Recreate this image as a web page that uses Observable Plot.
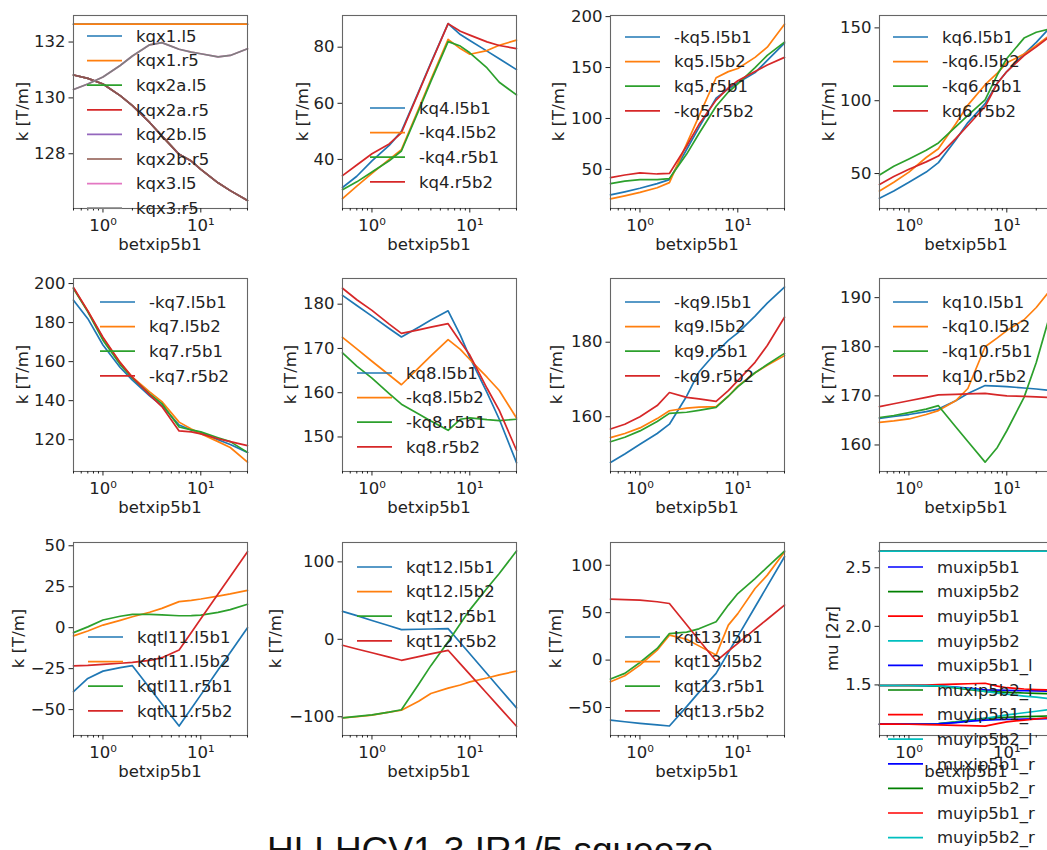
<!DOCTYPE html>
<html>
<head>
<meta charset="utf-8">
<script src="https://cdn.jsdelivr.net/npm/d3@7"></script>
<script src="https://cdn.jsdelivr.net/npm/@observablehq/plot@0.6"></script>
<style>
  html, body { margin: 0; padding: 0; background: #fff; }
  #fig { position: relative; width: 1047px; height: 850px; overflow: hidden; background: #fff; }
  #fig svg { position: absolute; }
  #title { position: absolute; left: 267px; top: 832px; font-family: "Liberation Sans", Arial, sans-serif;
           font-size: 37px; line-height: 1; color: #111; white-space: nowrap; }
</style>
</head>
<body>
<div id="fig"><div id="title">HLLHCV1.3 IR1/5 squeeze</div></div>
<script>
// ---- squeeze steps (x) ----
const betxip5b1 = [0.5, 0.7, 1, 1.5, 2, 3, 4, 6, 8, 10, 15, 20, 30];
const xMajorTicks = [1, 10];
const xMinorTicks = [0.5, 0.6, 0.7, 0.8, 0.9, 2, 3, 4, 5, 6, 7, 8, 9, 20, 30];

// ---- triplet kqx ----
const namesKqx = ["kqx1.l5", "kqx1.r5", "kqx2a.l5", "kqx2a.r5", "kqx2b.l5", "kqx2b.r5", "kqx3.l5", "kqx3.r5"];
const kqx1_l5  = [132.64, 132.64, 132.64, 132.64, 132.64, 132.64, 132.64, 132.64, 132.64, 132.64, 132.64, 132.64, 132.64];
const kqx1_r5  = [132.64, 132.64, 132.64, 132.64, 132.64, 132.64, 132.64, 132.64, 132.64, 132.64, 132.64, 132.64, 132.64];
const kqx2a_l5 = [130.82, 130.70, 130.50, 130.08, 129.72, 129.12, 128.64, 127.98, 127.74, 127.44, 126.96, 126.68, 126.33];
const kqx2a_r5 = [130.82, 130.70, 130.50, 130.08, 129.72, 129.12, 128.64, 127.98, 127.74, 127.44, 126.96, 126.68, 126.33];
const kqx2b_l5 = [130.82, 130.70, 130.50, 130.08, 129.72, 129.12, 128.64, 127.98, 127.74, 127.44, 126.96, 126.68, 126.33];
const kqx2b_r5 = [130.82, 130.70, 130.50, 130.08, 129.72, 129.12, 128.64, 127.98, 127.74, 127.44, 126.96, 126.68, 126.33];
const kqx3_l5  = [130.30, 130.50, 130.75, 131.16, 131.50, 131.90, 131.98, 131.74, 131.64, 131.58, 131.47, 131.52, 131.76];
const kqx3_r5  = [130.30, 130.50, 130.75, 131.16, 131.50, 131.90, 131.98, 131.74, 131.64, 131.58, 131.47, 131.52, 131.76];
const ticksKqx = [128, 130, 132];

// ---- Q4 ----
const namesKq4 = ["kq4.l5b1", "-kq4.l5b2", "-kq4.r5b1", "kq4.r5b2"];
const kq4_l5b1  = [30.0, 34.0, 39.5, 45.0, 50.0, 64.2, 74.4, 88.4, 84.5, 82.4, 78.6, 75.9, 72.0];
const mkq4_l5b2 = [26.0, 30.5, 35.0, 40.0, 43.5, 58.0, 68.5, 82.8, 79.5, 77.5, 78.8, 80.7, 82.5];
const mkq4_r5b1 = [29.2, 32.0, 35.5, 39.5, 43.0, 57.4, 67.8, 82.0, 80.4, 78.0, 72.6, 67.5, 63.0];
const kq4_r5b2  = [34.2, 38.0, 42.0, 45.5, 49.5, 63.9, 74.2, 88.4, 85.7, 84.3, 81.9, 80.6, 79.5];
const ticksKq4 = [40, 60, 80];

// ---- Q5 ----
const namesKq5 = ["-kq5.l5b1", "kq5.l5b2", "kq5.r5b1", "-kq5.r5b2"];
const mkq5_l5b1 = [25, 28, 31.5, 36, 40, 69.5, 91, 120, 129, 135, 145, 157, 174];
const kq5_l5b2  = [21, 24, 27.5, 32, 37, 75, 102, 140, 146, 149, 160, 170, 192.5];
const kq5_r5b1  = [36, 38.5, 40, 40, 41, 65, 85, 112, 126, 134, 150, 162, 175];
const mkq5_r5b2 = [42, 44.5, 46.5, 45.5, 46, 73, 94, 118, 130, 137, 146, 152.5, 160];
const ticksKq5 = [50, 100, 150, 200];

// ---- Q6 ----
const namesKq6 = ["kq6.l5b1", "-kq6.l5b2", "-kq6.r5b1", "kq6.r5b2"];
const kq6_l5b1  = [33, 38, 44, 51, 57.5, 73, 85, 98, 112, 120, 132, 140, 153];
const mkq6_l5b2 = [38, 44, 51, 61, 67, 84, 97, 111, 119, 126, 132, 138, 147];
const mkq6_r5b1 = [49, 55, 60, 66, 71, 82, 90, 100.6, 117.8, 129, 143, 147, 150];
const kq6_r5b2  = [42.5, 48, 53, 58, 62, 74, 83, 96, 112, 120, 131, 137, 146];
const ticksKq6 = [50, 100, 150];

// ---- Q7 ----
const namesKq7 = ["-kq7.l5b1", "kq7.l5b2", "kq7.r5b1", "-kq7.r5b2"];
const mkq7_l5b1 = [191.5, 182, 168.5, 157, 150.5, 142.5, 137.5, 127.5, 125, 123.5, 120, 117.5, 113.5];
const kq7_l5b2  = [197.5, 186, 172, 159.5, 152, 144.5, 139.5, 129, 125.5, 123, 119, 116, 108.5];
const kq7_r5b1  = [197.5, 185.5, 171, 158.5, 151.5, 143.5, 138.5, 126.5, 125, 124, 121, 119, 113.5];
const mkq7_r5b2 = [198, 186, 172.5, 159.5, 152, 143, 137, 124.5, 124, 123, 120.5, 119, 117];
const ticksKq7 = [120, 140, 160, 180, 200];

// ---- Q8 ----
const namesKq8 = ["kq8.l5b1", "-kq8.l5b2", "-kq8.r5b1", "kq8.r5b2"];
const kq8_l5b1  = [182, 179.7, 177.3, 174.5, 172.6, 174.8, 176.4, 178.5, 173, 168, 160, 154, 144.2];
const mkq8_l5b2 = [172.5, 169.9, 167.1, 164, 161.8, 165.6, 168.3, 172, 169.8, 167.5, 163.5, 160.5, 154.3];
const mkq8_r5b1 = [169, 166, 163.3, 159.8, 157.4, 155.2, 153.6, 151.5, 154, 154.3, 153.9, 153.7, 154];
const kq8_r5b2  = [183.6, 181, 178.6, 175.5, 173.4, 174.2, 174.8, 175.6, 171.5, 168.5, 161, 156, 147];
const ticksKq8 = [150, 160, 170, 180];

// ---- Q9 ----
const namesKq9 = ["-kq9.l5b1", "kq9.l5b2", "kq9.r5b1", "-kq9.r5b2"];
const mkq9_l5b1 = [147.7, 150, 152.6, 155.5, 158, 165.5, 172, 177.3, 180.5, 182.5, 187, 190.5, 194.8];
const kq9_l5b2  = [154.4, 155.5, 157, 159.5, 161.6, 162.3, 162.6, 162.7, 165.5, 168.2, 171.8, 173.8, 176.4];
const kq9_r5b1  = [153.3, 154.5, 156.2, 158.7, 160.9, 161.2, 161.7, 162.5, 165.5, 168, 171.8, 174, 177];
const mkq9_r5b2 = [156.7, 158, 160, 163, 166.5, 165.2, 164.8, 164.1, 167, 169.7, 174.6, 179.1, 186.7];
const ticksKq9 = [160, 180];

// ---- Q10 ----
const namesKq10 = ["kq10.l5b1", "-kq10.l5b2", "-kq10.r5b1", "kq10.r5b2"];
const kq10_l5b1  = [165.4, 165.8, 166.2, 166.8, 167.3, 169, 170.5, 172.1, 172, 171.9, 171.6, 171.4, 171];
const mkq10_l5b2 = [164.6, 164.9, 165.3, 166.2, 167, 169, 171.5, 180, 181.8, 183.3, 185.5, 188, 192.4];
const mkq10_r5b1 = [165.6, 166, 166.6, 167.3, 168, 163.7, 160.7, 156.5, 159.5, 162.9, 169.7, 176.8, 189];
const kq10_r5b2  = [167.8, 168.4, 169, 169.7, 170.2, 170.3, 170.4, 170.5, 170.2, 170, 169.9, 169.8, 169.6];
const ticksKq10 = [160, 170, 180, 190];

// ---- Q11 ----
const namesKqtl11 = ["kqtl11.l5b1", "kqtl11.l5b2", "kqtl11.r5b1", "kqtl11.r5b2"];
const kqtl11_l5b1 = [-39, -31, -26.5, -24.4, -23.2, -36.8, -46.6, -60, -49.3, -41, -25.8, -15.1, 0];
const kqtl11_l5b2 = [-5, -2, 1.6, 4.5, 6.7, 9.4, 11.8, 15.9, 16.7, 17.5, 19.3, 20.6, 22.8];
const kqtl11_r5b1 = [-3, 0.5, 4.7, 7, 8.1, 8.1, 7.8, 7.3, 7.4, 7.7, 9.4, 11, 14.3];
const kqtl11_r5b2 = [-23.3, -23, -22.4, -21.7, -21.2, -20, -18.3, -13.6, -2.9, 5.4, 20.6, 31.3, 46.4];
const ticksKqtl11 = [-50, -25, 0, 25, 50];

// ---- Q12 ----
const namesKqt12 = ["kqt12.l5b1", "kqt12.l5b2", "kqt12.r5b1", "kqt12.r5b2"];
const kqt12_l5b1 = [36, 30.5, 24.3, 17.5, 12.5, 13, 13.3, 13.8, -4.5, -18.7, -44.5, -62.8, -88.6];
const kqt12_l5b2 = [-101.5, -100, -98, -94, -91.6, -80, -70, -63, -59, -55, -50, -46, -41];
const kqt12_r5b1 = [-101.5, -99.5, -97.5, -94, -91, -58, -34, -3, 20, 38, 66, 85, 114];
const kqt12_r5b2 = [-7.7, -12.5, -17.4, -23, -27.1, -22.3, -18.9, -14.2, -31.8, -45.3, -70, -87.6, -112.3];
const ticksKqt12 = [-100, 0, 100];

// ---- Q13 ----
const namesKqt13 = ["kqt13.l5b1", "kqt13.l5b2", "kqt13.r5b1", "kqt13.r5b2"];
const kqt13_l5b1 = [-63.2, -65, -66.7, -68.3, -69.5, -49, -34, -14, 8, 25, 56, 78, 109];
const kqt13_l5b2 = [-22.8, -16.5, -5.3, 10.5, 26.3, 22, 15, 5.3, 36.9, 49, 75.5, 89.6, 114];
const kqt13_r5b1 = [-20, -14, -2.5, 12.3, 28, 29.5, 33, 40.4, 58, 70.2, 86, 98, 114.9];
const kqt13_r5b2 = [64.3, 63.8, 63.2, 61.5, 59.7, 37.2, 21.1, -1, 9.6, 17.7, 32.6, 43.1, 58];
const ticksKqt13 = [-50, 0, 50, 100];

// ---- phase advances ----
const namesMu = ["muxip5b1", "muxip5b2", "muyip5b1", "muyip5b2",
                 "muxip5b1_l", "muxip5b2_l", "muyip5b1_l", "muyip5b2_l",
                 "muxip5b1_r", "muxip5b2_r", "muyip5b1_r", "muyip5b2_r"];
const muxip5b1 = [2.642, 2.642, 2.642, 2.642, 2.642, 2.642, 2.642, 2.642, 2.642, 2.642, 2.642, 2.642, 2.642];
const muxip5b2 = [2.642, 2.642, 2.642, 2.642, 2.642, 2.642, 2.642, 2.642, 2.642, 2.642, 2.642, 2.642, 2.642];
const muyip5b1 = [2.642, 2.642, 2.642, 2.642, 2.642, 2.642, 2.642, 2.642, 2.642, 2.642, 2.642, 2.642, 2.642];
const muyip5b2 = [2.642, 2.642, 2.642, 2.642, 2.642, 2.642, 2.642, 2.642, 2.642, 2.642, 2.642, 2.642, 2.642];
const muxip5b1_l = [1.495, 1.495, 1.495, 1.494, 1.492, 1.482, 1.472, 1.458, 1.455, 1.453, 1.450, 1.449, 1.447];
const muxip5b2_l = [1.165, 1.165, 1.165, 1.167, 1.170, 1.185, 1.198, 1.215, 1.220, 1.224, 1.229, 1.232, 1.236];
const muyip5b1_l = [1.495, 1.495, 1.496, 1.499, 1.502, 1.507, 1.510, 1.514, 1.490, 1.476, 1.465, 1.460, 1.455];
const muyip5b2_l = [1.165, 1.165, 1.165, 1.166, 1.168, 1.180, 1.192, 1.215, 1.232, 1.244, 1.262, 1.275, 1.295];
const muxip5b1_r = [1.165, 1.165, 1.165, 1.166, 1.168, 1.178, 1.188, 1.200, 1.203, 1.205, 1.208, 1.210, 1.212];
const muxip5b2_r = [1.495, 1.495, 1.495, 1.493, 1.490, 1.475, 1.462, 1.445, 1.440, 1.436, 1.431, 1.428, 1.424];
const muyip5b1_r = [1.165, 1.165, 1.164, 1.161, 1.158, 1.154, 1.152, 1.148, 1.170, 1.184, 1.200, 1.210, 1.225];
const muyip5b2_r = [1.495, 1.495, 1.495, 1.494, 1.492, 1.480, 1.468, 1.445, 1.430, 1.420, 1.405, 1.395, 1.380];
const ticksMu = [1.5, 2.0, 2.5];

// ---- styling / layout ----
const tab10 = ["#1f77b4", "#ff7f0e", "#2ca02c", "#d62728", "#9467bd", "#8c564b", "#e377c2", "#7f7f7f"];
const bgrc = ["#0000ff", "#008000", "#ff0000", "#00bfbf"];
const colX = [73, 342, 610, 879];
const rowY = [15, 278, 542];
const W = 174, H = 193;
const ML = 90, MR = 20, MT = 20, MB = 70;
const FONT = "DejaVu Sans";
const FS = 16.5;
const INK = "#222";

const intFmt = d => (d < 0 ? "\u2212" : "") + Math.abs(d);
const oneDec = d => d.toFixed(1);
const sup = {0: "\u2070", 1: "\u00b9"};

const panels = [
  {col: 0, row: 0, names: namesKqx, series: [kqx1_l5, kqx1_r5, kqx2a_l5, kqx2a_r5, kqx2b_l5, kqx2b_r5, kqx3_l5, kqx3_r5],
   colors: tab10, domain: [126.04, 132.95], ticks: ticksKqx, fmt: intFmt, ylab: 51, leg: [14, 21]},
  {col: 1, row: 0, names: namesKq4, series: [kq4_l5b1, mkq4_l5b2, mkq4_r5b1, kq4_r5b2],
   colors: tab10, domain: [22.5, 91.3], ticks: ticksKq4, fmt: intFmt, ylab: 40, leg: [28, 93]},
  {col: 2, row: 0, names: namesKq5, series: [mkq5_l5b1, kq5_l5b2, kq5_r5b1, mkq5_r5b2],
   colors: tab10, domain: [11.6, 201.1], ticks: ticksKq5, fmt: intFmt, ylab: 52, leg: [15, 22]},
  {col: 3, row: 0, names: namesKq6, series: [kq6_l5b1, mkq6_l5b2, mkq6_r5b1, kq6_r5b2],
   colors: tab10, domain: [26, 158.5], ticks: ticksKq6, fmt: intFmt, ylab: 51, leg: [14, 22]},
  {col: 0, row: 1, names: namesKq7, series: [mkq7_l5b1, kq7_l5b2, kq7_r5b1, mkq7_r5b2],
   colors: tab10, domain: [103.7, 202.6], ticks: ticksKq7, fmt: intFmt, ylab: 51, leg: [27, 24]},
  {col: 1, row: 1, names: namesKq8, series: [kq8_l5b1, mkq8_l5b2, mkq8_r5b1, kq8_r5b2],
   colors: tab10, domain: [142.2, 185.8], ticks: ticksKq8, fmt: intFmt, ylab: 52, leg: [15, 95]},
  {col: 2, row: 1, names: namesKq9, series: [mkq9_l5b1, kq9_l5b2, kq9_r5b1, mkq9_r5b2],
   colors: tab10, domain: [145.3, 197.1], ticks: ticksKq9, fmt: intFmt, ylab: 54, leg: [15, 24]},
  {col: 3, row: 1, names: namesKq10, series: [kq10_l5b1, mkq10_l5b2, mkq10_r5b1, kq10_r5b2],
   colors: tab10, domain: [154.6, 193.9], ticks: ticksKq10, fmt: intFmt, ylab: 51, leg: [14, 24]},
  {col: 0, row: 2, names: namesKqtl11, series: [kqtl11_l5b1, kqtl11_l5b2, kqtl11_r5b1, kqtl11_r5b2],
   colors: tab10, domain: [-65.8, 52], ticks: ticksKqtl11, fmt: intFmt, ylab: 55, leg: [15, 95]},
  {col: 1, row: 2, names: namesKqt12, series: [kqt12_l5b1, kqt12_l5b2, kqt12_r5b1, kqt12_r5b2],
   colors: tab10, domain: [-124.2, 125], ticks: ticksKqt12, fmt: intFmt, ylab: 67, leg: [15, 25]},
  {col: 2, row: 2, names: namesKqt13, series: [kqt13_l5b1, kqt13_l5b2, kqt13_r5b1, kqt13_r5b2],
   colors: tab10, domain: [-79.5, 124], ticks: ticksKqt13, fmt: intFmt, ylab: 55, leg: [15, 95]},
  {col: 3, row: 2, names: namesMu,
   series: [muxip5b1, muxip5b2, muyip5b1, muyip5b2, muxip5b1_l, muxip5b2_l, muyip5b1_l, muyip5b2_l,
            muxip5b1_r, muxip5b2_r, muyip5b1_r, muyip5b2_r],
   colors: [...bgrc, ...bgrc, ...bgrc], domain: [1.068, 2.716], ticks: ticksMu, fmt: oneDec, ylab: 47, leg: [9, 25], mu: true}
];

const fig = document.getElementById("fig");

function drawPanel(p) {
  const lines = p.series.map((vals, i) =>
    Plot.line(vals, {x: betxip5b1, y: d => d, stroke: p.colors[i], strokeWidth: 1.7}));

  const svgNode = Plot.plot({
    width: W + ML + MR,
    height: H + MT + MB,
    marginLeft: ML, marginRight: MR, marginTop: MT, marginBottom: MB,
    style: {fontFamily: FONT, fontSize: FS + "px", color: INK, background: "none", overflow: "visible"},
    x: {type: "log", domain: [0.5, 30]},
    y: {domain: p.domain},
    marks: [
      ...lines,
      Plot.frame({stroke: "#666", strokeWidth: 1.1}),
      // minor decade ticks, no labels
      Plot.axisX({ticks: xMinorTicks, tickSize: 2.5, tickFormat: () => "", label: null}),
      Plot.axisX({ticks: xMajorTicks, tickSize: 4.5, tickPadding: 6,
                  tickFormat: d => "10" + sup[Math.round(Math.log10(d))], label: null}),
      Plot.axisY({ticks: p.ticks, tickSize: 4.5, tickPadding: 3.5, tickFormat: p.fmt, label: null})
    ]
  });

  svgNode.style.left = (colX[p.col] - ML) + "px";
  svgNode.style.top = (rowY[p.row] - MT) + "px";

  const svg = d3.select(svgNode);
  const g = svg.append("g").attr("font-family", FONT).attr("font-size", FS).attr("fill", INK);

  // x label
  g.append("text")
    .attr("x", ML + W / 2).attr("y", MT + H + 36).attr("dy", "0.35em")
    .attr("text-anchor", "middle").text("betxip5b1");

  // y label
  const yl = g.append("text")
    .attr("transform", `translate(${ML - p.ylab},${MT + H / 2}) rotate(-90)`)
    .attr("dy", "0.35em").attr("text-anchor", "middle");
  if (p.mu) {
    yl.append("tspan").text("mu [2");
    yl.append("tspan").attr("font-style", "italic").text("\u03c0");
    yl.append("tspan").text("]");
  } else {
    yl.text("k [T/m]");
  }

  // legend (no frame)
  const lx = ML + p.leg[0];
  p.names.forEach((name, i) => {
    const cy = MT + p.leg[1] + i * 24.6;
    g.append("line")
      .attr("x1", lx).attr("x2", lx + 35).attr("y1", cy).attr("y2", cy)
      .attr("stroke", p.colors[i]).attr("stroke-width", 1.7);
    g.append("text")
      .attr("x", lx + 49).attr("y", cy).attr("dy", "0.35em")
      .attr("text-anchor", "start").text(name);
  });

  fig.appendChild(svgNode);
}

panels.forEach(drawPanel);
</script>
</body>
</html>
